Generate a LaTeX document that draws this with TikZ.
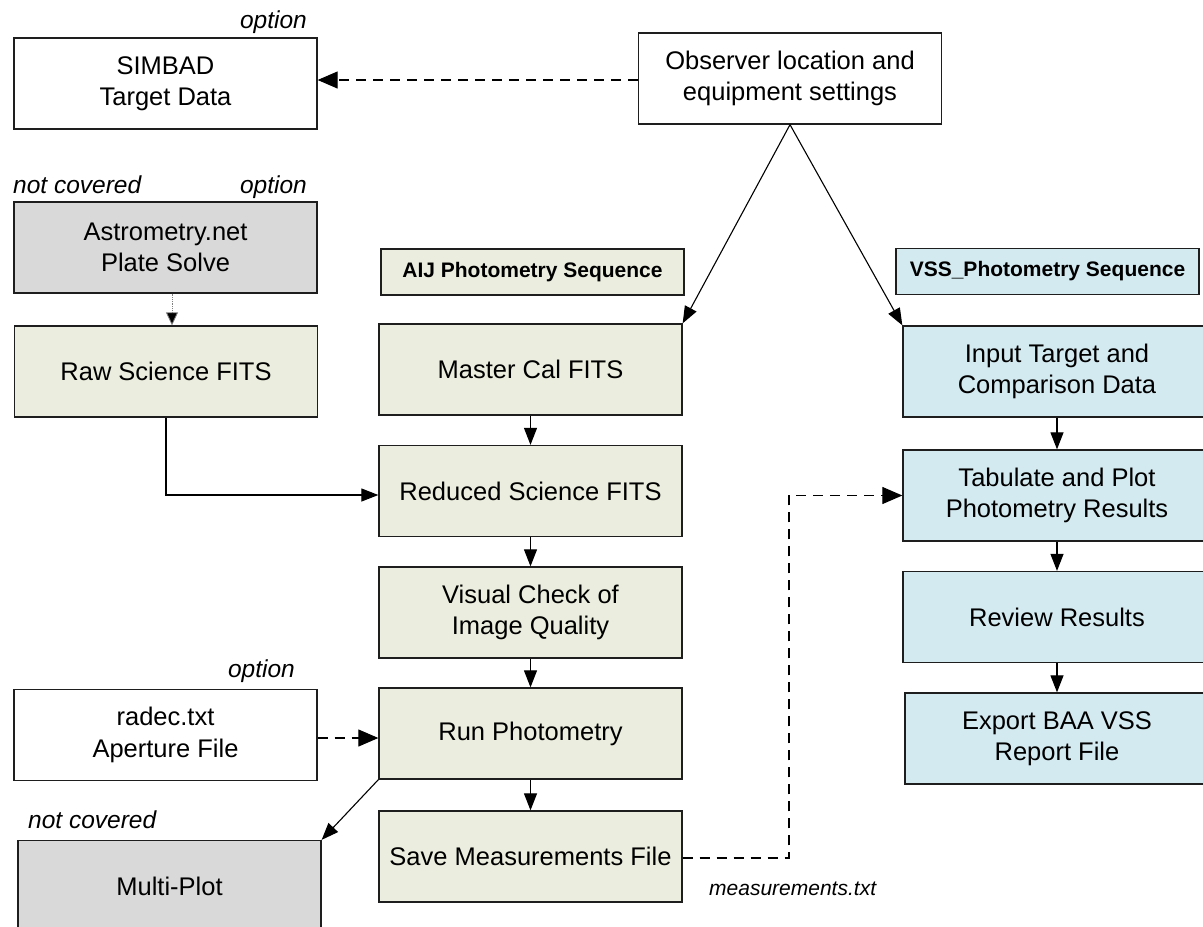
\documentclass[tikz,border=0pt]{standalone}
\usepackage{fontspec}
\setmainfont{Liberation Sans}
\usetikzlibrary{arrows.meta}
\definecolor{aijgreen}{RGB}{235,238,222}
\definecolor{vssblue}{RGB}{211,234,240}
\definecolor{greybox}{RGB}{217,217,217}
\definecolor{edge}{RGB}{30,30,30}
\tikzset{
  box/.style={draw=edge, line width=1.3pt, rectangle, align=center, inner sep=0pt,
    minimum width=303pt, minimum height=91pt, font=\fontsize{25.5}{31.5}\selectfont},
  greenbox/.style={box, fill=aijgreen},
  bluebox/.style={box, fill=vssblue, minimum width=308pt},
  whitebox/.style={box, fill=white},
  graybox/.style={box, fill=greybox},
  seqlabel/.style={draw=edge, line width=1.3pt, rectangle, inner sep=0pt,
    minimum width=303pt, minimum height=46pt, font=\fontsize{21}{25}\selectfont\bfseries},
  note/.style={inner sep=0pt, font=\fontsize{24.5}{28}\selectfont\itshape},
  conn/.style={draw=black, line width=1.1pt, -{Triangle[length=17pt,width=13pt]}},
  dconn/.style={draw=black, line width=1.1pt, dash pattern=on 10pt off 7pt, -{Triangle[length=20pt,width=17pt]}},
}
\begin{document}
\begin{tikzpicture}[x=1pt,y=-1pt]
\useasboundingbox (0,0) rectangle (1203,927);
\clip (0,0) rectangle (1203,927);

% left column
\node[whitebox] (simbad) at (165.5,83.5) {SIMBAD\\Target Data};
\node[graybox] (astro) at (165.5,247.5) {Astrometry.net\\Plate Solve};
\node[greenbox] (raw) at (166,371.5) {Raw Science FITS};
\node[whitebox] (radec) at (165.5,735) {radec.txt\\Aperture File};
\node[graybox] (multi) at (169.5,886) {Multi-Plot};

% top
\node[whitebox] (obs) at (790,78.5) {Observer location and\\equipment settings};

% AIJ column
\node[seqlabel, fill=aijgreen] (aij) at (532.5,272) {AIJ Photometry Sequence};
\node[greenbox] (master) at (530.5,369.5) {Master Cal FITS};
\node[greenbox] (reduced) at (530.5,491) {Reduced Science FITS};
\node[greenbox] (visual) at (530.5,612.5) {Visual Check of\\Image Quality};
\node[greenbox] (run) at (530.5,733.5) {Run Photometry};
\node[greenbox] (save) at (530.5,856.5) {Save Measurements File};

% VSS column
\node[seqlabel, fill=vssblue] (vss) at (1047.5,271.5) {VSS\_Photometry Sequence};
\node[bluebox] (input) at (1057,371.5) {Input Target and\\Comparison Data};
\node[bluebox] (tab) at (1057,495.5) {Tabulate and Plot\\Photometry Results};
\node[bluebox] (review) at (1057,617) {Review Results};
\node[bluebox, minimum width=304pt] (export) at (1057,738.5) {Export BAA VSS\\Report File};

% notes
\node[note, anchor=base east] (opt1) at (307,28) {option};
\node[note, anchor=base west] (nc1) at (13,193) {not covered};
\node[note, anchor=base east] (opt2) at (307,193) {option};
\node[note, anchor=base east] (opt3) at (295,677) {option};
\node[note, anchor=base west] (nc2) at (28,828) {not covered};
\node[inner sep=0pt, anchor=base west, font=\fontsize{21}{25}\selectfont\itshape] (mtxt) at (709,895) {measurements.txt};

% connectors
\coordinate (mid) at (789,0);
\draw[dconn] ([yshift=-1.5pt]obs.west) -- ([yshift=-1.5pt]obs.west -| simbad.east);
\draw[conn] (obs.south) -- (master.north east);
\draw[conn] (obs.south) -- (input.north west);
\draw[draw=gray, line width=0.8pt, densely dotted, -{Triangle[length=13pt,width=12pt,fill=black]}]
  ([xshift=6.5pt]astro.south) -- ([xshift=6pt]raw.north);
\draw[conn] (raw.south) |- ([yshift=-4pt]reduced.west);
\draw[conn] (master) -- (reduced);
\draw[conn] (reduced) -- (visual);
\draw[conn] (visual) -- (run);
\draw[conn] (run) -- (save);
\draw[dconn] ([yshift=-3pt]radec.east) -- ([yshift=-3pt]radec.east -| run.west);
\draw[conn] (run.south west) -- (multi.north east);
\draw[dconn] ([yshift=-1.5pt]save.east) -| (mid |- tab.west) -- (tab.west);
\draw[conn] (input) -- (tab);
\draw[conn] (tab) -- (review);
\draw[conn] (review) -- (export);
\end{tikzpicture}
\end{document}
